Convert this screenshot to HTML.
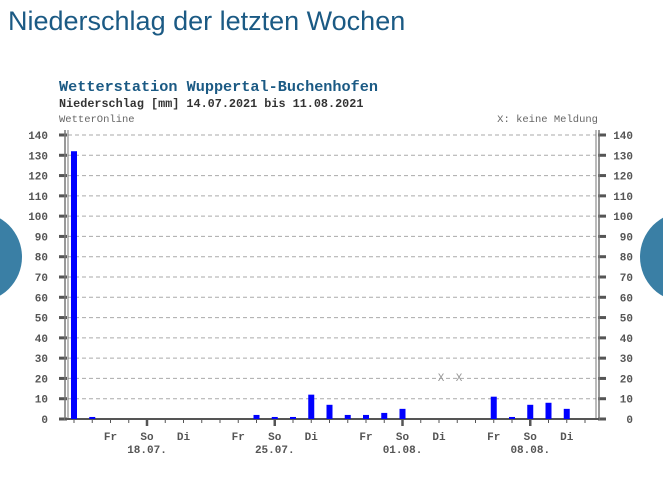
<!DOCTYPE html>
<html><head><meta charset="utf-8"><style>
body{margin:0;width:663px;height:478px;background:#fff;overflow:hidden;position:relative;font-family:"Liberation Sans",sans-serif}
h1{position:absolute;left:8px;top:6px;margin:0;font-weight:normal;font-size:27px;color:#1b5a84}
.c{position:absolute;width:90px;height:90px;border-radius:50%;background:#3a7fa5;top:212px}
svg{position:absolute;left:0;top:0}
</style></head><body>
<h1>Niederschlag der letzten Wochen</h1>
<div class="c" style="left:-68px"></div>
<div class="c" style="left:640px"></div>
<svg id="s" width="663" height="478" font-family="Liberation Mono, monospace" font-size="11"></svg>
<script>
var s=document.getElementById('s'),h='';
h+='<text x="59" y="91" font-size="15.2" font-weight="bold" fill="#1b5a84">Wetterstation Wuppertal-Buchenhofen</text>';
h+='<text x="59" y="107" font-size="11.8" font-weight="bold" fill="#333">Niederschlag [mm] 14.07.2021 bis 11.08.2021</text>';
h+='<text x="59" y="122" font-size="10.5" fill="#666">WetterOnline</text>';
h+='<text x="598" y="122" font-size="10.5" fill="#666" text-anchor="end">X: keine Meldung</text>';
function Y(v){return 419-v*284/140}
for(var v=0;v<=140;v+=10){var y=Y(v);
 if(v>0)h+='<line x1="68" x2="596" y1="'+y+'" y2="'+y+'" stroke="#aaa" stroke-dasharray="4,3"/>';
 h+='<rect x="59" y="'+(y-1.5)+'" width="8" height="3" fill="#555"/><rect x="598" y="'+(y-1.5)+'" width="8" height="3" fill="#555"/>';
 h+='<text x="48" y="'+(y+4)+'" text-anchor="end" font-weight="bold" fill="#555">'+v+'</text>';
 h+='<text x="633" y="'+(y+4)+'" text-anchor="end" font-weight="bold" fill="#555">'+v+'</text>';}
h+='<line x1="65" x2="65" y1="130" y2="420" stroke="#777" stroke-width="1.5"/><line x1="68" x2="68" y1="130" y2="420" stroke="#777"/>';
h+='<line x1="596" x2="596" y1="130" y2="420" stroke="#777"/><line x1="599" x2="599" y1="130" y2="420" stroke="#777" stroke-width="1.5"/>';
h+='<line x1="65" x2="599" y1="419" y2="419" stroke="#555" stroke-width="2"/>';
var d={0:132,1:1,10:2,11:1,12:1,13:12,14:7,15:2,16:2,17:3,18:5,23:11,24:1,25:7,26:8,27:5};
for(var i=0;i<29;i++){var x=74+18.25*i;
 if(d[i]){var y=Y(d[i]);h+='<rect x="'+(x-3)+'" y="'+y+'" width="6" height="'+(419-y)+'" fill="#0000ff"/>';}
 var big=(i%7==4);
 h+='<line x1="'+x+'" x2="'+x+'" y1="420" y2="'+(big?426:423)+'" stroke="#555" stroke-width="'+(big?2.5:1)+'"/>';
 var w=i%7, lab={2:'Fr',4:'So',6:'Di'}[w];
 if(lab)h+='<text x="'+x+'" y="440" text-anchor="middle" font-weight="bold" fill="#555">'+lab+'</text>';
}
var dates=['18.07.','25.07.','01.08.','08.08.'];
for(var k=0;k<4;k++){var x=74+18.25*(4+7*k);h+='<text x="'+x+'" y="453" text-anchor="middle" font-weight="bold" fill="#555">'+dates[k]+'</text>';}
h+='<text x="441" y="381" text-anchor="middle" fill="#999">X</text><text x="459" y="381" text-anchor="middle" fill="#999">X</text>';
s.innerHTML=h;
</script>
</body></html>
